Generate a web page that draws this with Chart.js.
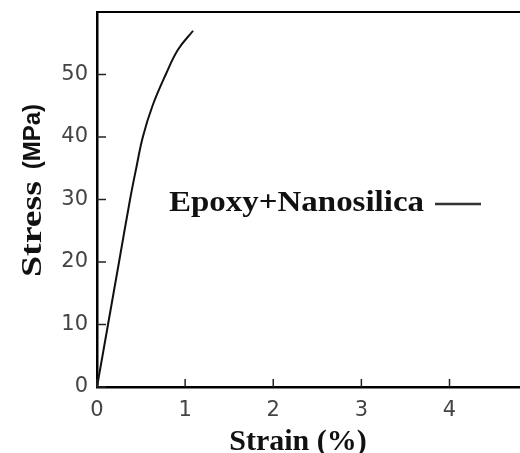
<!DOCTYPE html>
<html>
<head>
<meta charset="utf-8">
<script src="https://cdn.jsdelivr.net/npm/chart.js@4"></script>
<style>
  html, body { margin: 0; padding: 0; background: #fff; }
  #wrap { width: 520px; height: 453px; }
</style>
</head>
<body>
<div id="wrap"><canvas id="c" width="520" height="453"></canvas></div>
<script>
// (strain %, stress MPa)
const strain = [0, 0.125, 0.25, 0.375, 0.445, 0.52, 0.63, 0.78, 0.92, 1.09];
const stress = [0, 10, 20, 30, 35, 40, 45, 50, 54, 57];
const xTicks = [0, 1, 2, 3, 4];
const yTicks = [0, 10, 20, 30, 40, 50];
const seriesLabel = 'Epoxy+Nanosilica';

// box top line, inward ticks, titles and the in-plot legend
const decor = {
  id: 'decor',
  afterDraw(chart) {
    const c = chart.ctx, a = chart.chartArea;
    const xs = chart.scales.x, ys = chart.scales.y;
    c.save();
    c.strokeStyle = '#000';
    c.lineWidth = 2;
    c.beginPath();
    c.moveTo(a.left, a.top);
    c.lineTo(a.right, a.top);
    c.stroke();

    c.strokeStyle = '#222';
    c.lineWidth = 1.5;
    yTicks.forEach(v => {
      const p = ys.getPixelForValue(v);
      c.beginPath(); c.moveTo(a.left, p); c.lineTo(a.left + 9, p); c.stroke();
    });
    xTicks.forEach(v => {
      const p = xs.getPixelForValue(v);
      c.beginPath(); c.moveTo(p, a.bottom); c.lineTo(p, a.bottom - 8); c.stroke();
    });

    // x title
    c.fillStyle = '#111';
    c.font = 'bold 30px "Liberation Serif"';
    c.textAlign = 'center';
    c.textBaseline = 'alphabetic';
    c.fillText('Strain (%)', 298, 450);

    // y title: serif "Stress", sans "(MPa)"
    c.save();
    c.translate(41, 0);
    c.rotate(-Math.PI / 2);
    c.textAlign = 'left';
    c.font = 'bold 30px "Liberation Serif"';
    const sw = c.measureText('Stress').width;
    c.save();
    c.translate(-277, 0);
    c.scale(96 / sw, 1);
    c.fillText('Stress', 0, 0);
    c.restore();
    c.textAlign = 'right';
    c.font = 'bold 24px "Liberation Sans"';
    c.fillText('(MPa)', -104, -1);
    c.restore();

    // legend inside plot
    c.font = 'bold 30px "Liberation Serif"';
    c.textAlign = 'left';
    const w = c.measureText(seriesLabel).width;
    c.save();
    c.translate(169, 211);
    c.scale(255 / w, 1);
    c.fillText(seriesLabel, 0, 0);
    c.restore();
    c.strokeStyle = '#333';
    c.lineWidth = 2.5;
    c.beginPath(); c.moveTo(435, 204); c.lineTo(481, 204); c.stroke();
    c.restore();
  }
};

new Chart(document.getElementById('c'), {
  type: 'line',
  data: {
    datasets: [{
      label: seriesLabel,
      data: strain.map((x, i) => ({ x: x, y: stress[i] })),
      borderColor: '#111',
      borderWidth: 2,
      pointRadius: 0,
      tension: 0.4,
      fill: false
    }]
  },
  options: {
    responsive: false,
    animation: false,
    layout: { padding: { top: 12, right: 0, left: 0, bottom: 0 } },
    plugins: { legend: { display: false }, tooltip: { enabled: false } },
    scales: {
      x: {
        type: 'linear',
        min: 0, max: 4.8,
        afterFit: s => { s.height = 66; s.paddingLeft = 0; s.paddingRight = 0; },
        afterBuildTicks: s => { s.ticks = xTicks.map(v => ({ value: v })); },
        grid: { drawOnChartArea: false, drawTicks: false },
        border: { display: true, color: '#000', width: 2.5 },
        ticks: { color: '#444', padding: 11, font: { family: 'DejaVu Sans', size: 21 } }
      },
      y: {
        min: 0, max: 60,
        afterFit: s => { s.width = 97; s.paddingTop = 0; s.paddingBottom = 0; },
        afterBuildTicks: s => { s.ticks = yTicks.map(v => ({ value: v })); },
        grid: { drawOnChartArea: false, drawTicks: false },
        border: { display: true, color: '#000', width: 2.5 },
        ticks: { color: '#444', padding: 9, font: { family: 'DejaVu Sans', size: 21 } }
      }
    }
  },
  plugins: [decor]
});
</script>
</body>
</html>
